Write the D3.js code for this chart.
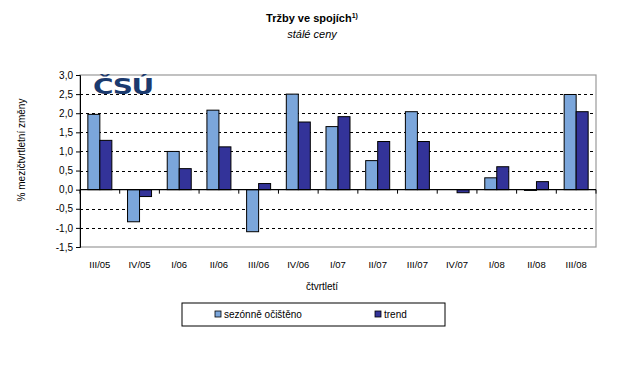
<!DOCTYPE html>
<html><head><meta charset="utf-8">
<script src="https://cdn.jsdelivr.net/npm/d3@7"></script>
<style>body{margin:0;background:#fff}svg{display:block;font-family:"Liberation Sans",Arial,sans-serif}</style>
</head><body><svg id="c" width="624" height="365"></svg>
<script>
const categories = ["III/05","IV/05","I/06","II/06","III/06","IV/06","I/07","II/07","III/07","IV/07","I/08","II/08","III/08"];
const seasonal = [1.97,-0.84,1.0,2.08,-1.1,2.5,1.65,0.76,2.04,0.0,0.31,-0.02,2.49];
const trend = [1.29,-0.18,0.55,1.12,0.16,1.77,1.91,1.26,1.26,-0.08,0.60,0.21,2.04];
const yTicks = [-1.5,-1.0,-0.5,0,0.5,1.0,1.5,2.0,2.5,3.0];
const seriesNames = ["sezónně očištěno","trend"];
const colors = ["#7BA6DB","#333399"];

const svg = d3.select("#c");
const L=80,R=596,T=75,B=247;
const x = d3.scaleBand().domain(categories).range([L,R]);
const y = d3.scaleLinear().domain([-1.5,3.0]).range([B,T]);
const fmt = v => d3.format(".1f")(v).replace(".",",").replace("−","-");

// title
const t = svg.append("text").attr("x",312).attr("y",22).attr("text-anchor","middle").attr("font-size",11).attr("font-weight","bold");
t.append("tspan").text("Tržby ve spojích");
t.append("tspan").attr("font-size",7).attr("dy",-4).text("1)");
svg.append("text").attr("x",312).attr("y",38).attr("text-anchor","middle").attr("font-size",11).attr("font-style","italic").text("stálé ceny");

// plot border
svg.append("rect").attr("x",L).attr("y",T).attr("width",R-L).attr("height",B-T).attr("fill","none").attr("stroke","#999").attr("stroke-width",1.2);

// gridlines
svg.append("g").selectAll("line").data(yTicks.filter(v=>v!==0&&v!==3&&v!==-1.5)).join("line")
  .attr("x1",L).attr("x2",R).attr("y1",d=>Math.round(y(d))+0.5).attr("y2",d=>Math.round(y(d))+0.5)
  .attr("stroke","#000").attr("stroke-dasharray","3,3");

// logo
svg.append("text").attr("x",93).attr("y",94).attr("font-size",22).attr("font-weight","900").attr("fill","#1B3A6E")
  .attr("font-family","DejaVu Sans").attr("letter-spacing",-1).attr("textLength",60).attr("lengthAdjust","spacingAndGlyphs").text("ČSÚ");

// bars
const bw = 12;
const cx = c => x(c)+x.bandwidth()/2;
[seasonal,trend].forEach((arr,si)=>{
  svg.append("g").selectAll("rect").data(arr).join("rect")
    .attr("x",(d,i)=>cx(categories[i]) + (si===0?-bw:0))
    .attr("y",d=>y(Math.max(0,d)))
    .attr("width",bw)
    .attr("height",d=>Math.abs(y(d)-y(0)))
    .attr("fill",colors[si]).attr("stroke","#000").attr("stroke-width",1);
});

// y axis
const ya = svg.append("g").attr("transform",`translate(${L},0)`)
  .call(d3.axisLeft(y).tickValues(yTicks).tickFormat(fmt).tickSize(4));
ya.select(".domain").attr("stroke","#000");
ya.selectAll("text").attr("font-size",10).attr("font-family","Liberation Sans, Arial").attr("fill","#000");

// zero axis
const xa = svg.append("g").attr("transform",`translate(0,${y(0)})`);
xa.append("line").attr("x1",L).attr("x2",R).attr("stroke","#000").attr("stroke-width",1.2);
xa.selectAll("line.tk").data(d3.range(categories.length+1)).join("line").attr("class","tk")
  .attr("x1",i=>L+i*x.step()).attr("x2",i=>L+i*x.step()).attr("y1",0).attr("y2",4).attr("stroke","#000");

// x labels
svg.append("g").selectAll("text").data(categories).join("text")
  .attr("x",d=>cx(d)).attr("y",268).attr("text-anchor","middle").attr("font-size",9.5).text(d=>d);

svg.append("text").attr("x",322).attr("y",290).attr("text-anchor","middle").attr("font-size",10).text("čtvrtletí");
svg.append("text").attr("transform","translate(25,150) rotate(-90)").attr("text-anchor","middle").attr("font-size",10).text("% mezičtvrtletní změny");

// legend
svg.append("rect").attr("x",182).attr("y",303).attr("width",263).attr("height",23).attr("fill","none").attr("stroke","#000");
const lx=[215,375];
seriesNames.forEach((n,i)=>{
  svg.append("rect").attr("x",lx[i]).attr("y",311).attr("width",6).attr("height",6).attr("fill",colors[i]).attr("stroke","#000").attr("stroke-width",0.8);
  svg.append("text").attr("x",lx[i]+9).attr("y",318).attr("font-size",10).text(n);
});
</script></body></html>
